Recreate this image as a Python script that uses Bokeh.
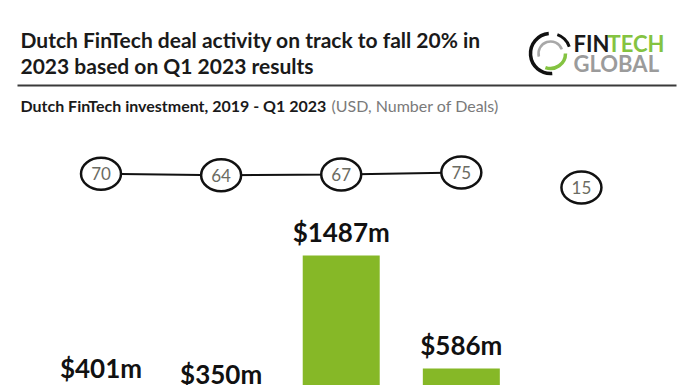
import math
from bokeh.plotting import figure
from bokeh.models import Range1d, Label, BoxAnnotation, ColumnDataSource
from bokeh.core.properties import value
from bokeh.embed import file_html
from bokeh.resources import INLINE

# ---- data ----
categories = ["2019", "2020", "2021", "2022", "Q1 2023"]
funding_musd = [401, 350, 1487, 586, 60]
deal_counts = [70, 64, 67, 75, 15]
funding_labels = ["$401m", "$350m", "$1487m", "$586m", "$60m"]
deal_labels = ["70", "64", "67", "75", "15"]

W, H = 696, 385
BAR_GREEN = "#86B827"

xs = list(range(len(categories)))
src = ColumnDataSource(dict(
    x=xs, cat=categories, funding=funding_musd, deals=deal_counts,
    flab=funding_labels, dlab=deal_labels,
))

p = figure(width=W, height=H, output_backend="svg", toolbar_location=None,
           x_range=Range1d(-0.8368, 4.958), y_range=Range1d(450.6, 3520.7),
           min_border=0, outline_line_color=None)
p.extra_y_ranges = {"deals": Range1d(-777, 763)}
p.xaxis.visible = False
p.yaxis.visible = False
p.grid.visible = False
p.background_fill_color = "white"
p.border_fill_color = "white"

# bars
p.vbar(x="x", top="funding", bottom=0, width=0.641, source=src,
       fill_color=BAR_GREEN, line_color=None)
# bar value labels
p.text(x="x", y="funding", text="flab", source=src, y_offset=-24,
       text_align="center", text_baseline="middle",
       text_font=value("Lato"), text_font_style="bold",
       text_font_size="26px", text_color="#111111")

# deals line (2019-2022 only) + circles
line_src = ColumnDataSource(dict(x=xs[:4], deals=deal_counts[:4]))
p.line(x="x", y="deals", source=line_src, line_color="#111111", line_width=2,
       y_range_name="deals")
p.ellipse(x="x", y="deals", width=40, height=32, width_units="screen",
          height_units="screen", source=src, fill_color="white",
          line_color="#111111", line_width=2.5, y_range_name="deals")
p.text(x="x", y="deals", text="dlab", source=src, y_range_name="deals",
       text_align="center", text_baseline="middle",
       text_font=value("Lato"), text_font_size="17px", text_color="#6b6b62")

# ---- header ----
def lab(text, x, y, size, color, style="bold", font="Lato"):
    p.add_layout(Label(x=x, y=H - y, x_units="screen", y_units="screen",
                       text=text, text_font=font, text_font_size=size,
                       text_font_style=style, text_color=color,
                       text_baseline="alphabetic", text_align="left"))

lab("Dutch FinTech deal activity on track to fall 20% in", 20, 39, "21px", "#1a1a1a")
lab("2023 based on Q1 2023 results", 20, 65, "21px", "#1a1a1a")
p.add_layout(BoxAnnotation(left=17, right=676, top=H - 84, bottom=H - 86,
                           left_units="screen", right_units="screen",
                           top_units="screen", bottom_units="screen",
                           fill_color="#3a3a3a", fill_alpha=1, line_alpha=0))
lab("Dutch FinTech investment, 2019 - Q1 2023", 20, 105, "16px", "#1a1a1a")
lab("(USD, Number of Deals)", 331, 105, "16px", "#7a7a7a", style="normal")

# logo text
lab("FIN", 573, 43, "22px", "#1a1a1a")
lab("TECH", 607, 43, "22px", "#84C341")
lab("GLOBAL", 573, 63, "22px", "#9b9b9b")

# logo swirl (positioned in screen px, converted to data coords)
def sx(px):
    r = p.x_range
    return r.start + px / W * (r.end - r.start)

def sy(py):
    r = p.y_range
    return r.end - py / H * (r.end - r.start)

cx, cy = sx(550), sy(53)
p.arc(x=[cx], y=[cy], radius=20, radius_units="screen",
      start_angle=math.radians(95), end_angle=math.radians(275),
      line_color="#111111", line_width=3.5)
p.arc(x=[cx], y=[cy], radius=20, radius_units="screen",
      start_angle=math.radians(20), end_angle=math.radians(70),
      line_color="#111111", line_width=3)
p.arc(x=[cx], y=[cy], radius=15, radius_units="screen",
      start_angle=math.radians(250), end_angle=math.radians(360),
      line_color="#84C341", line_width=3.5)
p.arc(x=[cx], y=[cy], radius=12, radius_units="screen",
      start_angle=math.radians(20), end_angle=math.radians(195),
      line_color="#a8a8a8", line_width=2.5)

open("out.html", "w").write(file_html(p, INLINE))
